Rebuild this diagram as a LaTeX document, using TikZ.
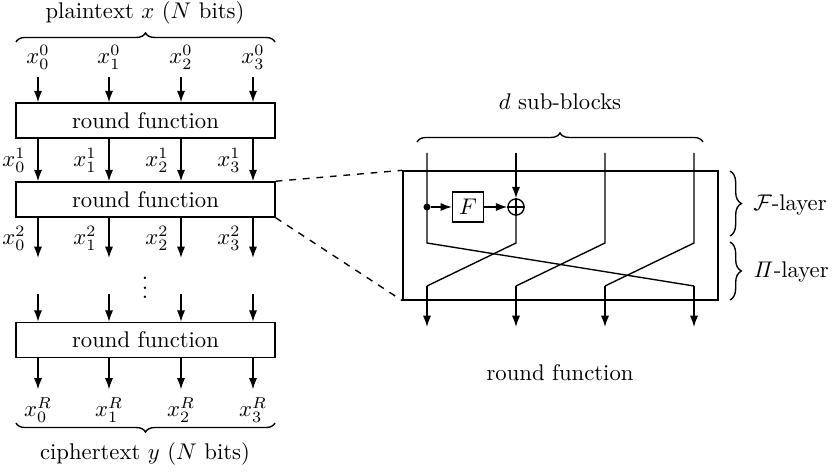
\documentclass[tikz,border=0pt]{standalone}
\usepackage{amsmath,amssymb}
\usetikzlibrary{arrows.meta,positioning,calc,decorations.pathreplacing}

\tikzset{
  rfbox/.style={draw, inner sep=0pt, minimum width=4.015cm, minimum height=0.545cm},
  arr/.style={-{Latex[length=5pt,width=3.6pt]}},
  brc/.style={decorate, decoration={brace, amplitude=4pt}},
}

\begin{document}
\begin{tikzpicture}[x=0.0155cm, y=-0.0155cm, line width=0.6pt]
  \useasboundingbox (0,0) rectangle (833,472);

  % Rounds (left)
  \node[rfbox] (r1) at (145.5,120.5) {round function};
  \node[rfbox] (r2) at (145.5,199.5) {round function};
  \node[rfbox] (r3) at (145.5,340) {round function};

  \node (pt) at (145,13) {plaintext $x$ ($N$ bits)};
  \node (ct) at (145,454) {ciphertext $y$ ($N$ bits)};
  \draw[brc] (16,42) -- (275,42);
  \draw[brc] (275,423) -- (16,423);

  \foreach \i/\x in {0/38, 1/109, 2/181, 3/253} {
    \coordinate (c\i) at (\x,0);
    \node (a\i) at (\x,57) {$x_\i^0$};
    \draw[arr] (c\i |- a\i.south) -- (c\i |- r1.north);
    \draw[arr] (c\i |- r1.south) -- (c\i |- r2.north);
    \node (b\i) at ({\x-24},160) {$x_\i^1$};
    \draw[arr] (c\i |- r2.south) -- (\x,258);
    \node (d\i) at ({\x-24},238) {$x_\i^2$};
    \draw[arr] (\x,294) -- (c\i |- r3.north);
    \node (f\i) at (\x,410) {$x_\i^R$};
    \draw[arr] (c\i |- r3.south) -- (c\i |- f\i.north);
  }
  \node (dots) at (145,281) {$\vdots$};

  % Round function (right)
  \node[rfbox, minimum width=4.8825cm, minimum height=2cm] (rf) at (560.5,235.5) {};
  \draw[dashed] (r2.north east) -- (rf.north west);
  \draw[dashed] (r2.south east) -- (rf.south west);

  \node (db) at (560,102) {$d$ sub-blocks};
  \draw[brc] (417,142) -- (703,142);
  \node (rl) at (560,373) {round function};

  \foreach \i/\x in {0/427, 1/516, 2/605, 3/694} {
    \coordinate (t\i) at (\x,153);
    \coordinate (s\i) at (\x,243);
    \coordinate (j\i) at (\x,286);
    \coordinate (e\i) at (\x,327);
  }

  % F-layer
  \node[circle, fill, inner sep=1.1pt] (dot) at (427,207) {};
  \node[draw, minimum width=0.48cm, minimum height=0.47cm, inner sep=0pt] (F) at (468,207) {$F$};
  \node[draw, circle, minimum size=0.25cm, inner sep=0pt] (xo) at (516,207) {};
  \draw (xo.north) -- (xo.south) (xo.west) -- (xo.east);
  \draw[arr] (dot) -- (F.west);
  \draw[arr] (F.east) -- (xo.west);
  \draw[arr] (t1) -- (xo.north);

  % Pi-layer
  \draw (xo.south) -- (s1) -- (j0);
  \foreach \a/\b in {0/3, 2/1, 3/2}
    \draw (t\a) -- (s\a) -- (j\b);
  \foreach \i in {0,...,3}
    \draw[arr] (j\i) -- (e\i);

  \draw[brc, decoration={amplitude=5pt}] (730,171) -- (730,236);
  \draw[brc, decoration={amplitude=5pt}] (730,242) -- (730,300);
  \node[anchor=west] (fl) at (745,205) {$\mathcal{F}$-layer};
  \node[anchor=west] (pl) at (745,272) {$\mathit{\Pi}$-layer};
\end{tikzpicture}
\end{document}
